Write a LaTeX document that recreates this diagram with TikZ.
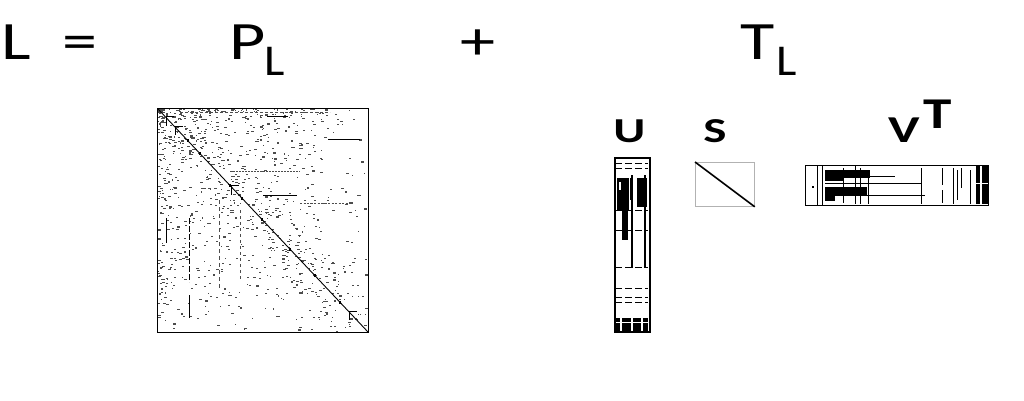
\documentclass[tikz,border=0pt]{standalone}
\usepackage{fontspec}
\setmainfont{Carlito}
\begin{document}
\begin{tikzpicture}[x=1pt,y=-1pt,
  txt/.style={inner sep=0pt, anchor=base west, xscale=1.3},
  big/.style={font=\fontsize{54}{54}\selectfont},
  sub/.style={font=\fontsize{44}{44}\selectfont, xscale=1.1/1.3},
  lbl/.style={font=\bfseries\fontsize{35}{35}\selectfont, xscale=1.4/1.3},
  frame/.style={draw=black, line width=1.3pt, inner sep=0pt, anchor=north west, fill=none},
  dot/.style={fill=black!70},
]
\useasboundingbox[fill=white] (0,0) rectangle (1024,400);

% ---------- equation ----------
\node[txt,big] (L) at (1,59) {L};
\node[txt,big] (eq) at (62,59) {=};
\node[txt,big] (P) at (229,59) {P};
\node[txt,sub] (PLs) at (264,75) {L};
\node[txt,big] (plus) at (460,59) {+};
\node[txt,big] (T) at (740,59) {T};
\node[txt,sub] (TLs) at (776,75) {L};

% ---------- labels ----------
\node[txt,lbl] (U) at (613,142) {U};
\node[txt,lbl] (S) at (703,142) {S};
\node[txt,font=\bfseries\fontsize{38}{38}\selectfont, xscale=1.4/1.3] (V) at (888,142) {V};
\node[txt,font=\bfseries\fontsize{44}{44}\selectfont, xscale=1.3/1.3] (Tsup) at (923,128) {T};

% ---------- P_L sparse matrix ----------
\begin{scope}
\clip (157,108) rectangle (368,332);
\pgfmathsetseed{11}
% uniform scatter
\foreach \i in {1,...,330}{
  \pgfmathsetmacro{\px}{158+209*rnd}
  \pgfmathsetmacro{\py}{109+222*rnd}
  \pgfmathsetmacro{\w}{1+2.5*rnd}
  \fill[dot] (\px,\py) rectangle ++(\w,1.1);
}
% denser upper-left block
\foreach \i in {1,...,480}{
  \pgfmathsetmacro{\a}{rnd}
  \pgfmathsetmacro{\b}{rnd}
  \pgfmathsetmacro{\px}{158+170*\a*\a}
  \pgfmathsetmacro{\py}{109+210*\b*\b}
  \pgfmathsetmacro{\w}{1+2*rnd}
  \fill[dot] (\px,\py) rectangle ++(\w,1.1);
}
% band around diagonal
\foreach \i in {1,...,240}{
  \pgfmathsetmacro{\t}{rnd}
  \pgfmathsetmacro{\px}{158+209*\t+50*(rnd-0.5)}
  \pgfmathsetmacro{\py}{109+222*\t+30*(rnd-0.5)}
  \pgfmathsetmacro{\w}{1+2*rnd}
  \fill[dot] (\px,\py) rectangle ++(\w,1.1);
}
% horizontal streaks
\draw[line width=0.8pt] (267,116) -- (288,116);
\draw[line width=0.8pt] (328,139) -- (360,139);
\draw[line width=0.8pt] (263,195) -- (297,195);
\draw[line width=0.5pt, black!70, dash pattern=on 2pt off 1pt] (230,171) -- (300,171);
\draw[line width=0.5pt, black!70, dash pattern=on 2pt off 1.5pt] (300,203) -- (350,203);
\draw[line width=0.5pt, black!70, dash pattern=on 3pt off 2pt] (180,112) -- (330,112);
% vertical streaks
\draw[line width=0.8pt] (166,218) -- (166,243);
\draw[line width=0.8pt, dash pattern=on 6pt off 2pt] (189,218) -- (189,282);
\draw[line width=0.8pt] (189,295) -- (189,318);
\draw[line width=0.5pt, black!70, dash pattern=on 4pt off 3pt] (219,200) -- (219,290);
\draw[line width=0.5pt, black!70, dash pattern=on 3pt off 3pt] (240,210) -- (240,280);
% diagonal
\draw[line width=0.9pt] (158,109) -- (368,332);
% markers on diagonal
\foreach \x in {170,179,235,353}{
  \pgfmathsetmacro{\y}{109+(\x-158)*1.0616}
  \draw[line width=0.6pt] (\x-4,\y-5) -- (\x+4,\y-5) (\x-4,\y-5) -- (\x-4,\y+4);
}
\foreach \x in {188,200,230,242,262,290,315,340}{
  \pgfmathsetmacro{\y}{109+(\x-158)*1.0616}
  \fill (\x-1.4,\y-1.4) rectangle (\x+1.4,\y+1.4);
}
\end{scope}
\node[frame, minimum width=211pt, minimum height=224pt] (PL) at (157,108) {};

% ---------- U ----------
\begin{scope}
\clip (614,157) rectangle (649,331);
% dashed rows
\foreach \y in {163,168,210,230,267,288,297,302}{
  \draw[line width=0.8pt, dash pattern=on 7pt off 3pt] (615,\y) -- (648,\y);
}
% black blocks
\fill (617,178) rectangle (629,210);
\fill (622,210) rectangle (628,240);
\fill (637,178) rectangle (647,207);
\fill (630,178) rectangle (633,200);
\draw[line width=1.6pt] (632,175) -- (632,268);
\draw[line width=1.4pt] (645,175) -- (645,268);
\fill[white] (619,182) rectangle (621,190);
% bottom block
\fill (615,318) rectangle (648,331);
\fill[white] (620,318) rectangle (621.5,331);
\fill[white] (631,318) rectangle (632.5,331);
\fill[white] (641,318) rectangle (642.5,331);
\draw[white, line width=0.8pt] (615,322) -- (648,322);
\end{scope}
\node[frame, line width=1.6pt, minimum width=35pt, minimum height=174pt] (Umat) at (614,157) {};

% ---------- S ----------
\node[frame, draw=black!30, line width=0.8pt, minimum width=59pt, minimum height=44pt] (Smat) at (695,162) {};
\draw[line width=1.6pt] (Smat.north west) -- (Smat.south east);

% ---------- V^T ----------
\begin{scope}
\clip (805,165) rectangle (988,205);
\draw[line width=1pt] (817,165) -- (817,205);
\draw[line width=0.6pt] (822,165) -- (822,205);
\fill (825,170) rectangle (870,178);
\fill (825,178) rectangle (843,181);
\draw[line width=0.8pt] (825,176) -- (895,176);
\draw[line width=1pt] (825,183) -- (922,183);
\fill (825,187) rectangle (867,196);
\fill (825,196) rectangle (835,201);
\draw[line width=0.8pt] (825,195) -- (925,195);
\fill (812,186) rectangle (813.5,187.5);
% sparse verticals
\foreach \x/\a/\b in {843/168/203, 855/166/204, 860/168/204, 868/172/204, 921/168/204, 942/168/185, 942/190/203, 953/168/204, 957/170/200, 961/168/188, 970/170/204}{
  \draw[line width=0.7pt] (\x,\a) -- (\x,\b);
}
\fill (976,166) rectangle (980,204);
\fill (982,166) rectangle (988,204);
\draw[white, line width=0.6pt] (976,183) -- (988,183);
\end{scope}
\node[frame, line width=1.4pt, minimum width=183pt, minimum height=40pt] (Vmat) at (805,165) {};
\end{tikzpicture}
\end{document}
